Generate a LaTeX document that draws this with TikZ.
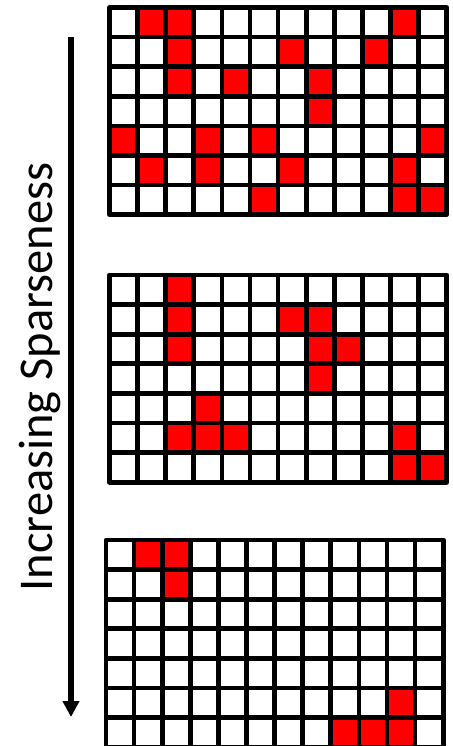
\documentclass[tikz,border=0pt]{standalone}
\usepackage{fontspec}
\setmainfont{Carlito}
\usetikzlibrary{arrows.meta}

\begin{document}
\begin{tikzpicture}[
    x=1pt, y=1pt, yscale=-1, xscale=1,
    gridline/.style={line width=4.7pt, line join=round},
    hot/.style={fill={rgb,255:red,255;green,0;blue,0}}
]
\useasboundingbox (0,0) rectangle (452,746);

%==================== Grid 1 (dense) ====================
\begin{scope}[shift={(109.5,7.5)}]
  \foreach \r/\c in {0/1,0/2,0/10, 1/2,1/6,1/9, 2/2,2/4,2/7, 3/7,
                     4/0,4/3,4/5,4/11, 5/1,5/3,5/6,5/10, 6/5,6/10,6/11}
    \fill[hot] (\c*28.1,\r*29.6) rectangle ++(28.1,29.6);
  \foreach \i in {1,...,11}
    \draw[gridline] (\i*28.1,0) -- (\i*28.1,207.2);
  \foreach \j in {1,...,6}
    \draw[gridline] (0,\j*29.6) -- (337.2,\j*29.6);
  \draw[gridline] (0,0) rectangle (337.2,207.2);
\end{scope}

%==================== Grid 2 ====================
\begin{scope}[shift={(109.5,275)}]
  \foreach \r/\c in {0/2, 1/2,1/6,1/7, 2/2,2/7,2/8, 3/7, 4/3,
                     5/2,5/3,5/4,5/10, 6/10,6/11}
    \fill[hot] (\c*28.1,\r*29.6) rectangle ++(28.1,29.6);
  \foreach \i in {1,...,11}
    \draw[gridline] (\i*28.1,0) -- (\i*28.1,207.2);
  \foreach \j in {1,...,6}
    \draw[gridline] (0,\j*29.6) -- (337.2,\j*29.6);
  \draw[gridline] (0,0) rectangle (337.2,207.2);
\end{scope}

%==================== Grid 3 (sparse) ====================
\begin{scope}[shift={(106,540)}]
  \foreach \r/\c in {0/1,0/2, 1/2, 5/10, 6/8,6/9,6/10}
    \fill[hot] (\c*28.1,\r*29.6) rectangle ++(28.1,29.6);
  \foreach \i in {1,...,11}
    \draw[gridline] (\i*28.1,0) -- (\i*28.1,207.2);
  \foreach \j in {1,...,6}
    \draw[gridline] (0,\j*29.6) -- (337.2,\j*29.6);
  \draw[gridline] (0,0) rectangle (337.2,207.2);
\end{scope}

%==================== Arrow and label ====================
\coordinate (arrowtop) at (71,37);
\coordinate (arrowtip) at (71,717);
\draw[line width=5.5pt, -{Triangle[length=16pt,width=16pt]}] (arrowtop) -- (arrowtip);
\node[rotate=90, inner sep=0pt, font=\fontsize{48.5}{50}\selectfont] (sparselabel) at (40,377) {Increasing Sparseness};

\end{tikzpicture}
\end{document}
